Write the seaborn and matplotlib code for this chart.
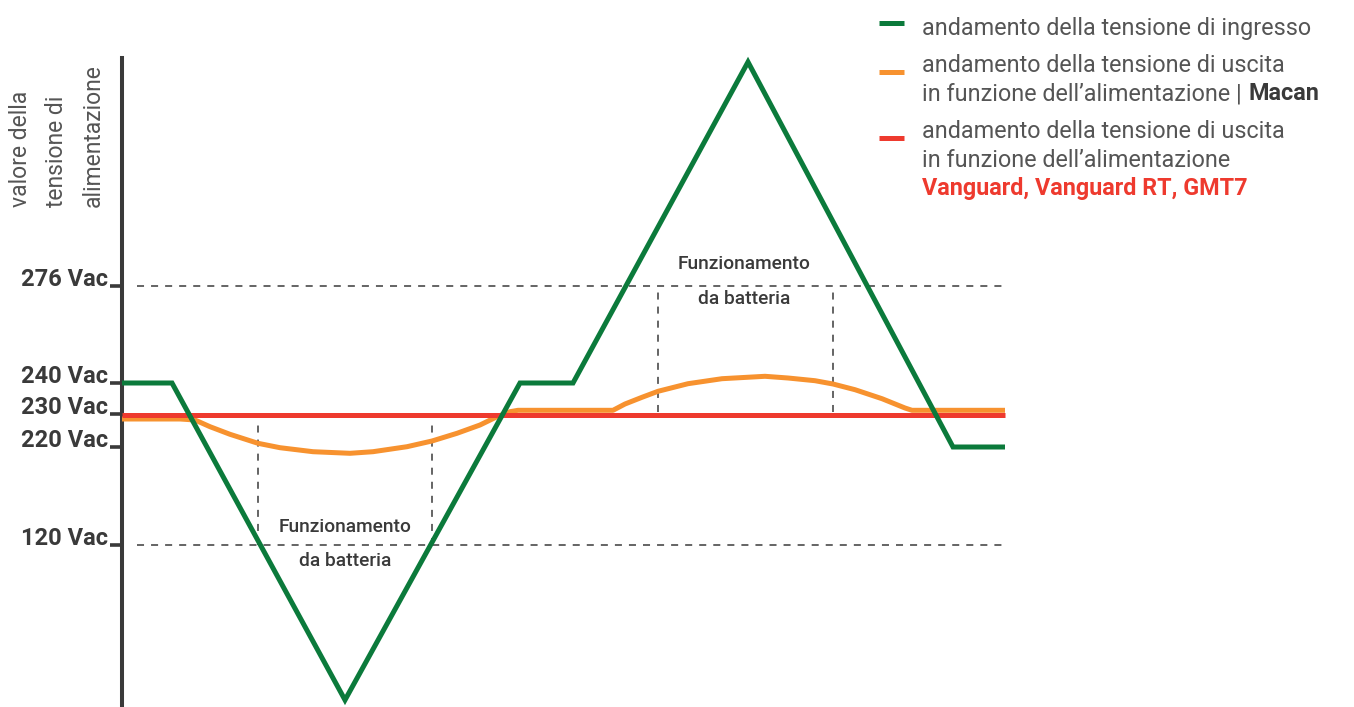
import matplotlib
matplotlib.use("Agg")
import matplotlib.pyplot as plt
import seaborn as sns
import pandas as pd
from matplotlib.lines import Line2D

# ---- data (schematic units: t = time, level = schematic voltage position) ----
tick_labels = ["276 Vac", "240 Vac", "230 Vac", "220 Vac", "120 Vac"]
tick_levels = [42.1, 32.4, 29.3, 26.0, 16.2]

green_t = [0, 5.0, 22.3, 39.8, 45.1, 62.6, 83.1, 88.3]
green_v = [32.4, 32.4, 0.7, 32.4, 32.4, 64.5, 26.0, 26.0]

orange_t = [0, 5.8, 7.3, 8.8, 10.8, 13.6, 15.8, 19.1, 22.8, 25.1, 28.5, 31.0,
            33.5, 35.8, 37.5, 38.8, 39.6,
            49.1, 50.3, 52.0, 53.6, 56.6, 60.0, 64.3, 66.6, 69.3, 71.1, 73.3,
            76.0, 78.3, 79.0, 88.3]
orange_v = [28.8, 28.8, 28.7, 28.03, 27.27, 26.37, 25.93, 25.53, 25.37, 25.53,
            26.03, 26.6, 27.37, 28.2, 29.03, 29.53, 29.67,
            29.67, 30.3, 30.97, 31.57, 32.33, 32.83, 33.07, 32.9, 32.63, 32.3,
            31.73, 30.83, 29.9, 29.67, 29.67]

red_t = [0, 88.3]
red_v = [29.2, 29.2]

threshold_levels = [42.1, 16.2]
threshold_span = [1.5, 88.3]
battery_low_t = [13.6, 31.0]
battery_low_span = [16.2, 28.4]
battery_high_t = [53.6, 71.1]
battery_high_span = [29.5, 42.1]

battery_text = ["Funzionamento", "da batteria"]
battery_low_pos = (22.3, [17.5, 14.1])
battery_high_pos = (62.2, [43.8, 40.3])

ylabel_lines = ["valore della", "tensione di", "alimentazione"]

legend_green = "andamento della tensione di ingresso"
legend_orange = ["andamento della tensione di uscita", "in funzione dell\u2019alimentazione |", "Macan"]
legend_red = ["andamento della tensione di uscita", "in funzione dell\u2019alimentazione",
              "Vanguard, Vanguard RT, GMT7"]

GREEN = "#0b7a3b"
ORANGE = "#f7922f"
RED = "#ee3a2e"
DARK = "#3a3a3a"
GREY = "#555555"

sns.set_style("white")
plt.rcParams["font.family"] = ["Roboto", "DejaVu Sans"]

W, H = 1354, 707
fig = plt.figure(figsize=(W / 100, H / 100), dpi=100)
ax = fig.add_axes([122 / W, 0, 883 / W, 649 / H])
ax.set_xlim(0, 88.3)
ax.set_ylim(0, 64.9)

dash = (0, (4.6, 4.6))
ax.hlines(threshold_levels, threshold_span[0], threshold_span[1], colors=DARK,
          linewidth=1.1, linestyles=[dash], zorder=1)
ax.vlines(battery_low_t, battery_low_span[0], battery_low_span[1], colors=DARK,
          linewidth=1.1, linestyles=[dash], zorder=1)
ax.vlines(battery_high_t, battery_high_span[0], battery_high_span[1], colors=DARK,
          linewidth=1.1, linestyles=[dash], zorder=1)

df_o = pd.DataFrame({"t": orange_t, "v": orange_v})
df_r = pd.DataFrame({"t": red_t, "v": red_v})
df_g = pd.DataFrame({"t": green_t, "v": green_v})
sns.lineplot(data=df_o, x="t", y="v", ax=ax, color=ORANGE, linewidth=3.6,
             estimator=None, sort=False, zorder=3)
sns.lineplot(data=df_r, x="t", y="v", ax=ax, color=RED, linewidth=3.6,
             estimator=None, sort=False, zorder=4)
sns.lineplot(data=df_g, x="t", y="v", ax=ax, color=GREEN, linewidth=3.6,
             estimator=None, sort=False, zorder=5)
for i, ln in enumerate(ax.lines[-3:]):
    ln.set_solid_joinstyle("miter" if i == 2 else "round")
    ln.set_solid_capstyle("butt")
    ln.set_clip_on(False)

for (tx, ys) in [battery_low_pos, battery_high_pos]:
    for s, yy in zip(battery_text, ys):
        ax.text(tx, yy, s, ha="center", va="baseline", fontsize=13.8,
                fontweight="medium", color=DARK)

# axes styling
for side in ["top", "right", "bottom"]:
    ax.spines[side].set_visible(False)
ax.spines["left"].set_linewidth(2.9)
ax.spines["left"].set_color(DARK)
ax.set_xticks([])
ax.set_yticks(tick_levels)
ax.set_yticklabels(tick_labels, fontweight="bold", va="baseline")
ax.tick_params(axis="y", left=True, length=8.6, width=2.6, color=DARK, pad=1.5,
               labelsize=17, labelcolor=DARK, direction="out")
ax.set_xlabel("")
ax.set_ylabel("")
ax.patch.set_alpha(0)


def fp(x, y):
    return (x / W, 1 - y / H)


LW = "normal"
# y-axis title (three rotated lines)
for xb, s in zip([27, 63, 100], ylabel_lines):
    fig.text(*fp(xb, 207), s, rotation=90, rotation_mode="anchor", ha="left",
             va="baseline", fontsize=16.5, fontweight=LW, color=GREY)

# legend (manual)
for yy, col in [(22.5, GREEN), (72, ORANGE), (138, RED)]:
    fig.add_artist(Line2D([879 / W, 904 / W], [1 - yy / H, 1 - yy / H],
                          color=col, linewidth=3.6, solid_capstyle="butt"))

lx = 922
fs = 16.8
fig.text(*fp(lx, 35), legend_green, fontsize=fs, fontweight=LW, color=GREY,
         va="baseline", ha="left")
fig.text(*fp(lx, 72), legend_orange[0], fontsize=fs, fontweight=LW, color=GREY,
         va="baseline", ha="left")
t_or = fig.text(*fp(lx, 100), legend_orange[1], fontsize=fs, fontweight=LW,
                color=GREY, va="baseline", ha="left")
fig.text(*fp(lx, 138), legend_red[0], fontsize=fs, fontweight=LW, color=GREY,
         va="baseline", ha="left")
fig.text(*fp(lx, 167), legend_red[1], fontsize=fs, fontweight=LW, color=GREY,
         va="baseline", ha="left")
fig.text(*fp(lx, 195), legend_red[2], fontsize=fs, fontweight="bold", color=RED,
         va="baseline", ha="left")

renderer = fig.canvas.get_renderer()
bb = t_or.get_window_extent(renderer)
fig.text((bb.x1 + 7) / W, 1 - 100 / H, legend_orange[2], fontsize=fs,
         fontweight="bold", color=DARK, va="baseline", ha="left")

fig.savefig("out.png", dpi=100)
